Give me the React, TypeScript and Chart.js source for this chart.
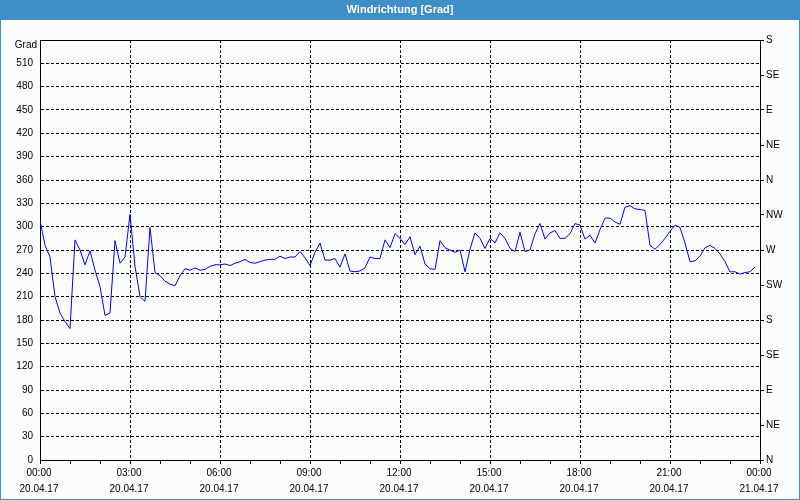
import React, { useEffect, useRef } from 'react';
import { Chart, registerables } from 'chart.js';

Chart.register(...registerables);

const TITLE = 'Windrichtung [Grad]';
const AXIS_UNIT = 'Grad';
const SAMPLE_MINUTES = 10;

// wind direction in degrees, one value every 10 minutes from 00:00
const directionValues: number[] = [
  308, 276, 261, 210, 189, 178, 169, 283, 270, 251, 269, 244,
  223, 186, 189, 282, 253, 261, 316, 249, 210, 204, 299, 241,
  237, 230, 226, 224, 237, 246, 244, 247, 244, 245, 249, 251,
  251, 252, 250, 253, 255, 258, 254, 253, 255, 257, 258, 258,
  262, 259, 261, 261, 268, 260, 250, 267, 279, 257, 257, 259,
  248, 265, 243, 242, 243, 247, 261, 259, 259, 283, 273, 291,
  285, 277, 287, 264, 275, 252, 246, 245, 282, 273, 270, 267,
  270, 242, 271, 292, 285, 272, 285, 279, 292, 285, 272, 268,
  293, 268, 270, 291, 304, 284, 292, 295, 285, 285, 291, 304,
  302, 284, 289, 279, 296, 311, 311, 306, 303, 325, 327, 323,
  322, 321, 276, 271, 277, 285, 294, 302, 299, 279, 255, 256,
  262, 273, 276, 272, 265, 255, 242, 242, 239, 241, 242, 248,
];

const xTickTimes = ['00:00', '03:00', '06:00', '09:00', '12:00', '15:00', '18:00', '21:00', '00:00'];
const xTickDates = ['20.04.17', '20.04.17', '20.04.17', '20.04.17', '20.04.17', '20.04.17', '20.04.17', '20.04.17', '21.04.17'];
const compassLabels = ['N', 'NE', 'E', 'SE', 'S', 'SW', 'W', 'NW'];

const FONT = '"Liberation Sans", Arial, sans-serif';
const BLUE = '#3d90c7';
const BG = '#fbfdfc';

const framePlugin = {
  id: 'frame',
  beforeDraw(chart: any) {
    const { ctx, width, height } = chart;
    ctx.save();
    ctx.fillStyle = BG;
    ctx.fillRect(0, 0, width, height);
    ctx.fillStyle = BLUE;
    ctx.fillRect(0, 0, width, 20);
    ctx.fillRect(0, 0, 1, height);
    ctx.fillRect(width - 1, 0, 1, height);
    ctx.fillRect(0, height - 1, width, 1);
    ctx.fillStyle = '#ffffff';
    ctx.font = `bold 11px ${FONT}`;
    ctx.textAlign = 'center';
    ctx.textBaseline = 'middle';
    ctx.fillText(TITLE, width / 2, 10);
    ctx.restore();
  },
  afterDraw(chart: any) {
    const { ctx, chartArea } = chart;
    ctx.save();
    ctx.strokeStyle = '#000000';
    ctx.lineWidth = 1;
    ctx.beginPath();
    ctx.moveTo(chartArea.left, Math.round(chartArea.top) + 0.5);
    ctx.lineTo(chartArea.right, Math.round(chartArea.top) + 0.5);
    ctx.stroke();
    ctx.fillStyle = '#000000';
    ctx.font = `10px ${FONT}`;
    ctx.textAlign = 'right';
    ctx.textBaseline = 'middle';
    ctx.fillText(AXIS_UNIT, chartArea.left - 3, chartArea.top + 5);
    ctx.restore();
  },
};

export default function App() {
  const canvasRef = useRef<HTMLCanvasElement | null>(null);

  useEffect(() => {
    document.body.style.margin = '0';
    const canvas = canvasRef.current;
    if (!canvas) return;
    const points = directionValues.map((v, i) => ({ x: (i * SAMPLE_MINUTES) / 60, y: v }));
    const chart = new Chart(canvas, {
      type: 'line',
      data: {
        datasets: [
          {
            data: points,
            borderColor: '#0000ff',
            borderWidth: 1,
            pointRadius: 0,
            tension: 0,
            fill: false,
          },
        ],
      },
      options: {
        responsive: false,
        animation: false,
        layout: { padding: { top: 40, left: 0, right: 0, bottom: 0 } },
        plugins: {
          legend: { display: false },
          title: { display: false },
          tooltip: { enabled: false },
        },
        scales: {
          x: {
            type: 'linear',
            min: 0,
            max: 24,
            afterFit: (s: any) => { s.height = 40; },
            grid: {
              color: (c: any) => (c.tick && c.tick.value % 3 === 0 ? '#000000' : 'rgba(0,0,0,0)'),
              tickColor: '#000000',
              tickLength: 4,
              lineWidth: 1,
            },
            border: { display: true, color: '#000000', width: 1, dash: [3, 2] },
            ticks: {
              stepSize: 1,
              autoSkip: false,
              maxRotation: 0,
              minRotation: 0,
              padding: 1,
              labelOffset: -1,
              color: '#000000',
              font: { family: FONT, size: 10, lineHeight: 1.6 },
              callback: (v: any) => {
                const h = Number(v);
                if (h % 3 !== 0) return '';
                const i = h / 3;
                return [xTickTimes[i], xTickDates[i]];
              },
            },
          },
          y: {
            type: 'linear',
            position: 'left',
            min: 0,
            max: 540,
            afterFit: (s: any) => { s.width = 40; },
            grid: { color: '#000000', drawTicks: false, lineWidth: 1 },
            border: { display: true, color: '#000000', width: 1, dash: [3, 2] },
            ticks: {
              stepSize: 30,
              padding: 7,
              color: '#000000',
              font: { family: FONT, size: 10 },
              callback: (v: any) => (Number(v) === 540 ? '' : String(v)),
            },
          },
          y2: {
            type: 'linear',
            position: 'right',
            min: 0,
            max: 540,
            afterFit: (s: any) => { s.width = 40; },
            grid: { drawOnChartArea: false, tickLength: 4, tickColor: '#000000', color: '#000000' },
            border: { display: true, color: '#000000', width: 1 },
            ticks: {
              stepSize: 45,
              padding: 2,
              color: '#000000',
              font: { family: FONT, size: 10 },
              callback: (v: any) => compassLabels[Math.round(Number(v) / 45) % 8],
            },
          },
        },
      },
      plugins: [framePlugin],
    });
    return () => chart.destroy();
  }, []);

  return (
    <div style={{ position: 'absolute', left: 0, top: 0, width: 800, height: 500 }}>
      <canvas ref={canvasRef} width={800} height={500} style={{ display: 'block' }} />
    </div>
  );
}
